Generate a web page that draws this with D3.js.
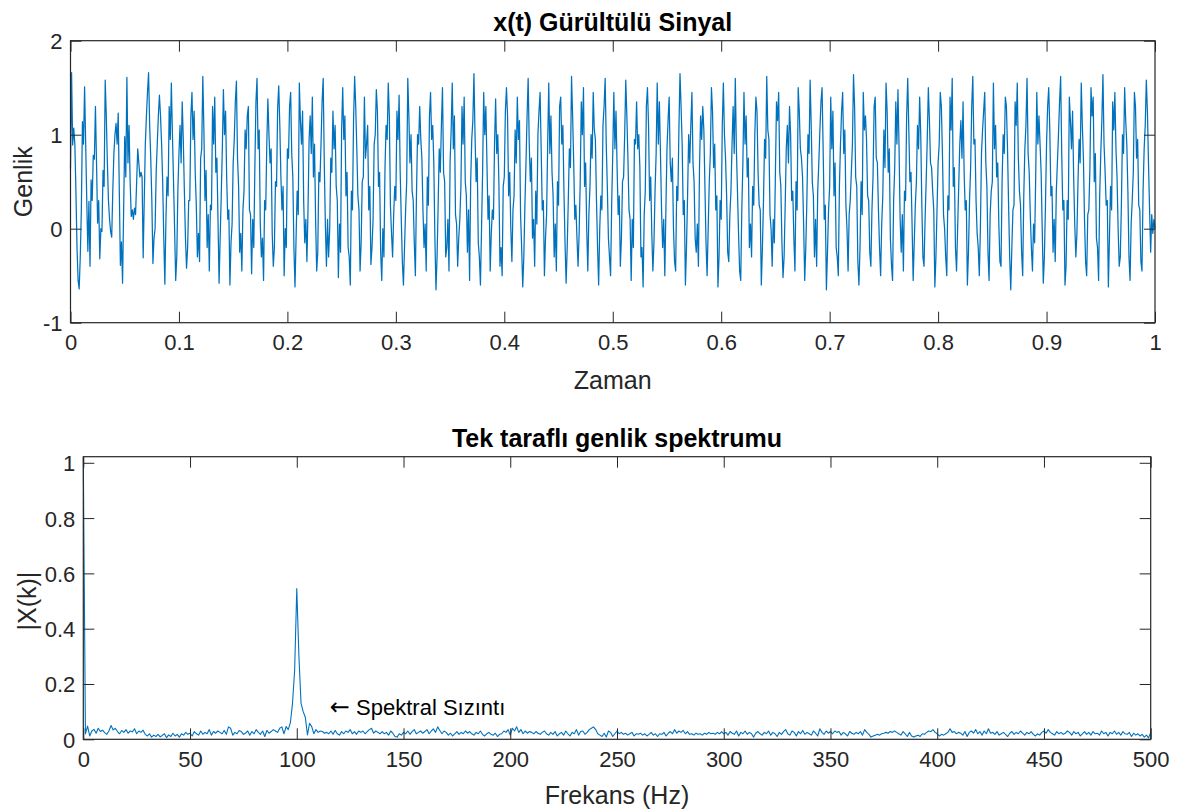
<!DOCTYPE html>
<html>
<head>
<meta charset="utf-8">
<script src="https://cdn.jsdelivr.net/npm/d3@7"></script>
<style>
  body { margin: 0; background: #fff; }
  svg { display: block; font-family: "Liberation Sans", Arial, sans-serif; }
  .tick text { fill: #262626; }
  .tick line { stroke: #262626; }
</style>
</head>
<body>
<div id="chart"></div>
<script>
// Noisy signal x(t), 1 kHz sampling, 1 second (cycle by cycle)
var signal = [
  0.64, 1.66, 0.89, 1.07, 0.9, 0.4, -0.2, -0.55, -0.64, -0.3,
  0.2, 1.14, 0.9, 1.51, 0.9, 0.3, -0.24, 0.29, -0.4, 0.52,
  0.3, 0.78, 0.74, 1.3, 0.7, 0.06, 0.3, -0.32, 0.0, -0.03,
  0.62, 0.45, 1.58, 1.2, 0.7, 0.3, 0.1, -0.03, -0.09, 0.4,
  0.8, 1.0, 1.12, 0.9, 1.23, 0.4, -0.39, -0.14, -0.58, 0.2,
  0.98, 0.55, 1.61, 0.7, 1.1, 0.5, 0.13, 0.2, 0.1, 0.22,
  0.15, 0.5, 0.85, 0.7, 0.55, 0.6, 0.55, -0.31, 0.3, 0.9,
  1.2, 1.45, 1.66, 1.1, 0.75, 0.3, -0.37, -0.1, 0.0, 0.6,
  0.9, 1.2, 1.42, 1.2, 0.9, 0.5, -0.1, -0.59, 0.1, 0.55,
  0.35, 1.3, 0.95, 1.55, 1.0, 0.5, 0.0, -0.55, -0.3, 0.4,
  0.8, 1.1, 0.7, 1.35, 0.95, 0.4, -0.1, -0.42, -0.2, 0.3,
  0.3, 1.2, 1.45, 0.95, 1.25, 0.6, 0.25, -0.3, -0.05, -0.35,
  0.75, 0.85, 1.62, 1.05, 0.3, 0.62, -0.2, 0.15, -0.45, 0.25,
  0.2, 1.3, 0.9, 1.4, 0.6, 0.75, 0.1, -0.58, -0.1, 0.35,
  0.85, 1.48, 1.0, 1.25, 0.55, 0.1, 0.2, -0.6, -0.15, 0.05,
  0.7, 0.95, 1.35, 1.57, 0.75, 0.45, -0.25, -0.05, -0.45, 0.2,
  0.4, 1.05, 0.85, 1.2, 1.3, 0.2, 0.15, -0.48, 0.1, -0.2,
  0.65, 1.35, 1.6, 0.85, 1.05, 0.05, -0.3, -0.1, -0.55, 0.3,
  0.2, 0.9, 1.38, 1.0, 0.7, 0.85, -0.05, -0.4, -0.2, 0.5,
  0.45, 1.28, 1.52, 1.1, 0.55, 0.2, 0.45, -0.5, 0.0, -0.2,
  0.85, 0.75, 1.3, 1.45, 0.8, 0.55, -0.2, -0.62, -0.1, 0.4,
  0.15, 1.55, 1.15, 0.9, 1.25, 0.3, -0.15, 0.1, -0.35, 0.2,
  0.95, 1.2, 0.8, 1.4, 0.55, 0.9, 0.1, -0.45, -0.25, 0.6,
  0.5, 0.9, 1.35, 1.6, 0.7, 0.05, -0.4, 0.1, -0.3, 0.0,
  0.75, 0.6, 1.25, 0.85, 1.1, 0.45, 0.3, -0.52, 0.05, -0.25,
  1.05, 1.5, 0.95, 1.2, 0.35, 0.6, -0.2, -0.3, -0.6, 0.4,
  0.2, 1.15, 1.62, 1.3, 0.85, 0.35, 0.2, -0.45, -0.15, 0.5,
  0.55, 1.4, 0.75, 0.9, 1.1, 0.2, 0.45, -0.38, -0.2, 0.1,
  0.9, 1.0, 1.48, 1.25, 0.45, 0.6, -0.25, -0.55, 0.0, -0.3,
  0.65, 1.1, 0.95, 1.55, 1.2, 0.25, -0.05, -0.3, 0.15, 0.45,
  0.3, 1.25, 0.95, 1.42, 0.6, 0.1, -0.35, -0.6, -0.2, 0.2,
  0.5, 1.6, 1.2, 0.7, 1.0, 0.4, 0.3, -0.15, -0.5, 0.35,
  1.0, 0.9, 1.3, 0.95, 0.75, 0.2, -0.2, 0.05, -0.45, 0.55,
  0.25, 1.2, 1.45, 0.95, 1.1, 0.7, -0.1, -0.65, -0.3, 0.25,
  0.85, 0.6, 1.1, 1.5, 0.6, 0.5, -0.3, -0.2, 0.1, -0.45,
  0.7, 1.05, 1.55, 0.85, 1.2, 0.15, 0.05, -0.4, -0.1, 0.1,
  0.45, 1.3, 0.9, 1.4, 0.5, 0.35, -0.25, 0.2, -0.55, 0.5,
  0.95, 1.15, 1.65, 1.0, 0.5, 0.75, -0.15, -0.3, -0.6, 0.0,
  0.6, 1.45, 1.0, 1.3, 0.7, 0.1, 0.35, -0.45, -0.05, 0.2,
  0.1, 0.9, 1.38, 0.8, 1.0, 0.5, -0.4, -0.2, -0.5, 0.45,
  0.55, 1.25, 1.5, 1.2, 0.35, 0.6, 0.0, -0.35, 0.2, 0.35,
  1.05, 0.7, 1.4, 0.95, 1.15, 0.15, -0.2, -0.62, -0.3, 0.25,
  0.7, 1.2, 1.6, 0.9, 0.5, 0.75, -0.1, 0.1, -0.4, 0.4,
  0.05, 1.0, 1.25, 1.45, 0.85, 0.2, 0.3, -0.5, -0.1, 0.15,
  0.9, 1.55, 0.8, 1.2, 0.6, 0.35, -0.3, 0.05, -0.45, 0.5,
  0.25, 1.3, 1.4, 0.9, 1.1, 0.4, -0.15, -0.58, -0.2, 0.3,
  0.85, 0.65, 1.62, 1.2, 0.7, 0.1, 0.25, -0.1, -0.4, -0.05,
  0.5, 1.35, 1.0, 1.5, 0.45, 0.7, 0.0, -0.45, 0.15, 0.45,
  1.0, 0.75, 1.45, 1.05, 0.95, 0.3, -0.2, -0.6, 0.0, 0.35,
  0.2, 1.1, 1.3, 1.6, 0.9, 0.45, -0.1, -0.3, -0.5, 0.25,
  0.8, 1.45, 0.85, 1.25, 0.65, 0.15, 0.35, -0.4, -0.1, 0.5,
  0.55, 1.0, 1.58, 1.2, 0.75, 0.2, 0.1, -0.55, 0.1, -0.2,
  0.95, 0.9, 1.35, 0.85, 1.0, 0.65, -0.3, -0.2, -0.62, 0.15,
  0.4, 1.3, 1.5, 1.1, 0.3, 0.55, -0.05, -0.45, -0.15, 0.4,
  0.8, 1.55, 0.9, 1.35, 0.8, 0.2, -0.2, 0.1, -0.5, 0.2,
  0.85, 1.15, 1.4, 0.7, 0.5, 0.75, 0.0, -0.35, -0.45, 0.45,
  0.3, 1.05, 1.65, 1.3, 0.9, 0.15, 0.3, -0.6, -0.2, 0.35,
  1.0, 0.7, 1.1, 1.45, 0.7, 0.5, -0.1, -0.25, 0.05, -0.4,
  0.65, 1.2, 0.95, 1.3, 1.05, 0.45, -0.15, -0.5, 0.0, 0.5,
  0.8, 1.5, 1.25, 0.65, 0.9, 0.2, 0.35, -0.62, -0.3, 0.3,
  0.1, 1.1, 1.55, 1.0, 0.75, 0.35, -0.25, -0.35, 0.15, 0.4,
  0.9, 1.3, 0.8, 1.6, 0.85, 0.4, -0.05, -0.45, -0.55, 0.2,
  0.7, 1.45, 0.9, 1.2, 0.55, 0.75, -0.2, 0.05, -0.3, 0.45,
  0.25, 1.0, 1.4, 1.25, 0.6, 0.25, 0.2, -0.6, -0.2, 0.3,
  0.95, 0.75, 1.62, 1.05, 0.95, 0.15, 0.0, -0.4, 0.1, -0.15,
  0.6, 1.35, 1.15, 1.45, 0.6, 0.45, -0.15, -0.52, -0.3, 0.25,
  0.85, 1.1, 0.7, 1.3, 1.0, 0.3, 0.4, -0.1, -0.45, 0.5,
  0.2, 1.5, 1.25, 0.85, 0.75, 0.55, 0.05, -0.55, -0.2, 0.3,
  1.0, 0.8, 1.58, 1.1, 0.5, 0.35, -0.3, 0.1, -0.4, 0.4,
  0.7, 1.05, 1.35, 1.5, 0.85, 0.1, 0.25, -0.65, -0.25, 0.2,
  0.45, 1.4, 0.85, 1.25, 0.35, 0.7, -0.2, -0.3, -0.5, 0.45,
  0.9, 1.25, 1.45, 0.8, 1.05, 0.25, 0.0, -0.45, 0.15, 0.3,
  0.6, 0.9, 1.64, 1.3, 0.55, 0.45, -0.35, -0.6, -0.2, 0.5,
  0.15, 1.45, 1.05, 1.2, 0.95, 0.35, 0.3, -0.25, -0.4, 0.2,
  0.55, 1.3, 1.4, 0.75, 0.7, 0.2, -0.2, -0.5, 0.05, 0.35,
  1.05, 0.65, 1.55, 1.25, 0.6, 0.85, -0.1, -0.38, -0.55, 0.3,
  0.65, 1.35, 0.9, 1.48, 0.85, 0.1, -0.25, 0.15, -0.45, 0.4,
  0.3, 1.2, 1.6, 1.05, 0.5, 0.6, 0.05, -0.55, -0.15, 0.25,
  0.5, 1.1, 0.85, 1.4, 1.0, 0.25, -0.3, -0.4, 0.1, 0.5,
  0.95, 1.5, 1.15, 0.7, 0.65, 0.4, 0.2, -0.62, -0.3, 0.2,
  0.7, 0.9, 1.45, 1.3, 0.8, 0.15, 0.0, -0.3, -0.5, 0.35,
  0.2, 1.4, 1.05, 1.6, 0.45, 0.65, -0.2, -0.45, 0.0, 0.45,
  0.9, 1.15, 0.75, 1.35, 0.6, 0.2, 0.3, -0.6, -0.25, 0.3,
  0.65, 1.3, 1.62, 0.9, 0.95, 0.3, -0.05, -0.2, -0.5, 0.0,
  0.8, 1.05, 1.25, 1.45, 0.7, 0.45, -0.25, -0.55, 0.15, 0.4,
  0.5, 1.55, 0.85, 1.1, 0.55, 0.7, 0.05, -0.35, -0.4, 0.5,
  1.0, 0.8, 1.4, 1.3, 0.85, 0.25, -0.3, -0.65, -0.2, 0.2,
  0.25, 1.35, 1.1, 1.55, 0.75, 0.4, 0.25, -0.25, -0.5, 0.35,
  0.85, 1.1, 1.6, 0.8, 0.6, 0.15, -0.2, -0.45, 0.05, -0.15,
  0.55, 1.45, 0.9, 1.2, 0.9, 0.6, 0.0, -0.58, -0.3, 0.25,
  0.9, 1.3, 1.5, 1.05, 0.35, 0.45, -0.25, 0.1, -0.35, 0.4,
  0.7, 1.0, 1.35, 1.62, 0.8, 0.2, 0.3, -0.6, -0.4, 0.3,
  0.1, 1.4, 1.15, 0.85, 1.25, 0.55, 0.05, -0.3, -0.05, 0.5,
  0.95, 0.7, 1.55, 1.1, 0.75, 0.1, -0.35, -0.5, 0.15, 0.2,
  0.65, 1.5, 1.2, 1.4, 0.5, 0.8, -0.1, -0.2, -0.55, 0.35,
  0.8, 1.15, 1.64, 0.9, 0.6, 0.25, 0.3, -0.62, -0.1, 0.45,
  0.2, 1.35, 1.05, 1.45, 0.85, 0.55, 0.0, -0.4, -0.3, 0.25,
  1.0, 0.8, 1.5, 1.15, 0.9, 0.4, -0.3, -0.55, 0.05, 0.3,
  0.6, 1.45, 1.3, 0.75, 0.95, 0.25, 0.2, -0.35, -0.45, 0.4,
  0.85, 1.1, 1.58, 1.25, 0.7, 0.2, -0.25, 0.15, -0.05, 0.1,
  0.0
];

// One-sided amplitude spectrum |X(k)|, one value per Hz from 0 to 500
var spectrum = [
  1.02, 0.02, 0.048, 0.012, 0.03, 0.036, 0.022, 0.04, 0.028, 0.033,
  0.024, 0.018, 0.03, 0.05, 0.034, 0.04, 0.028, 0.02, 0.032, 0.025,
  0.035, 0.022, 0.03, 0.027, 0.038, 0.02, 0.03, 0.025, 0.033, 0.018,
  0.012, 0.02, 0.008, 0.015, 0.01, 0.018, 0.009, 0.014, 0.02, 0.006,
  0.016, 0.01, 0.022, 0.012, 0.018, 0.008, 0.02, 0.015, 0.025, 0.018,
  0.022, 0.012, 0.028, 0.02, 0.015, 0.03, 0.018, 0.025, 0.02, 0.035,
  0.015, 0.028, 0.022, 0.03, 0.025, 0.02, 0.032, 0.018, 0.045, 0.04,
  0.015, 0.025, 0.02, 0.032, 0.028, 0.018, 0.022, 0.03, 0.015, 0.028,
  0.02, 0.035, 0.025, 0.018, 0.03, 0.01, 0.032, 0.022, 0.028, 0.035,
  0.03, 0.025, 0.04, 0.045, 0.02, 0.046, 0.035, 0.06, 0.13, 0.25,
  0.545, 0.3, 0.13, 0.1, 0.08, 0.016, 0.058, 0.046, 0.02, 0.035,
  0.025, 0.03, 0.028, 0.022, 0.025, 0.02, 0.03, 0.018, 0.032, 0.02,
  0.015, 0.028, 0.02, 0.03, 0.025, 0.035, 0.02, 0.028, 0.018, 0.03,
  0.025, 0.03, 0.02, 0.028, 0.035, 0.04, 0.022, 0.03, 0.025, 0.02,
  0.028, 0.02, 0.025, 0.015, 0.03, 0.022, 0.01, 0.008, 0.02, 0.015,
  0.025, 0.02, 0.03, 0.018, 0.028, 0.035, 0.02, 0.025, 0.03, 0.022,
  0.028, 0.035, 0.02, 0.03, 0.038, 0.025, 0.045, 0.032, 0.02, 0.03,
  0.025, 0.015, 0.022, 0.012, 0.02, 0.028, 0.018, 0.025, 0.02, 0.03,
  0.022, 0.028, 0.02, 0.015, 0.025, 0.02, 0.03, 0.018, 0.012, 0.02,
  0.025, 0.018, 0.015, 0.022, 0.01, 0.018, 0.02, 0.03, 0.025, 0.035,
  0.015, 0.04, 0.03, 0.045, 0.025, 0.035, 0.02, 0.03, 0.022, 0.028,
  0.025, 0.02, 0.028, 0.022, 0.018, 0.025, 0.03, 0.02, 0.015, 0.025,
  0.018, 0.028, 0.012, 0.02, 0.025, 0.015, 0.03, 0.02, 0.012, 0.025,
  0.02, 0.035, 0.015, 0.028, 0.03, 0.018, 0.025, 0.035, 0.04, 0.045,
  0.035, 0.02, 0.015, 0.01, 0.022, 0.008, 0.03, 0.025, 0.01, 0.02,
  0.03, 0.02, 0.025, 0.018, 0.022, 0.015, 0.02, 0.025, 0.012, 0.02,
  0.018, 0.022, 0.015, 0.02, 0.012, 0.018, 0.025, 0.015, 0.02, 0.01,
  0.02, 0.018, 0.025, 0.012, 0.022, 0.028, 0.02, 0.035, 0.022, 0.03,
  0.025, 0.032, 0.02, 0.028, 0.018, 0.02, 0.015, 0.022, 0.018, 0.02,
  0.015, 0.022, 0.018, 0.025, 0.02, 0.022, 0.018, 0.025, 0.02, 0.028,
  0.02, 0.025, 0.015, 0.028, 0.022, 0.018, 0.03, 0.012, 0.025, 0.02,
  0.03, 0.018, 0.025, 0.02, 0.008, 0.022, 0.028, 0.02, 0.015, 0.025,
  0.02, 0.03, 0.015, 0.025, 0.02, 0.01, 0.025, 0.018, 0.028, 0.035,
  0.02, 0.015, 0.03, 0.025, 0.012, 0.028, 0.02, 0.032, 0.018, 0.025,
  0.02, 0.015, 0.03, 0.022, 0.012, 0.038, 0.025, 0.018, 0.03, 0.022,
  0.028, 0.02, 0.03, 0.025, 0.028, 0.015, 0.025, 0.02, 0.012, 0.028,
  0.022, 0.018, 0.025, 0.02, 0.028, 0.015, 0.035, 0.025, 0.018, 0.008,
  0.012, 0.015, 0.018, 0.015, 0.02, 0.022, 0.025, 0.022, 0.028, 0.025,
  0.03, 0.025, 0.02, 0.015, 0.028, 0.02, 0.01, 0.025, 0.012, 0.008,
  0.012, 0.015, 0.01, 0.02, 0.018, 0.025, 0.03, 0.028, 0.035, 0.025,
  0.02, 0.012, 0.018, 0.015, 0.02, 0.025, 0.038, 0.025, 0.028, 0.02,
  0.025, 0.022, 0.015, 0.028, 0.01, 0.025, 0.03, 0.022, 0.035, 0.02,
  0.028, 0.015, 0.03, 0.02, 0.038, 0.022, 0.025, 0.018, 0.028, 0.015,
  0.02, 0.025, 0.018, 0.01, 0.022, 0.028, 0.018, 0.025, 0.02, 0.03,
  0.022, 0.015, 0.025, 0.02, 0.028, 0.018, 0.012, 0.02, 0.015, 0.025,
  0.03, 0.022, 0.035, 0.025, 0.02, 0.015, 0.028, 0.02, 0.025, 0.018,
  0.022, 0.03, 0.025, 0.015, 0.028, 0.02, 0.025, 0.012, 0.02, 0.028,
  0.018, 0.025, 0.015, 0.028, 0.02, 0.022, 0.015, 0.03, 0.02, 0.025,
  0.012, 0.025, 0.02, 0.03, 0.018, 0.025, 0.015, 0.028, 0.02, 0.018,
  0.025, 0.01, 0.022, 0.015, 0.02, 0.012, 0.018, 0.008, 0.015, 0.005,
  0.025
];

// Tick values
var timeTicks = [0, 0.1, 0.2, 0.3, 0.4, 0.5, 0.6, 0.7, 0.8, 0.9, 1];
var ampTicks = [-1, 0, 1, 2];
var freqTicks = [0, 50, 100, 150, 200, 250, 300, 350, 400, 450, 500];
var magTicks = [0, 0.2, 0.4, 0.6, 0.8, 1];

var sampleRate = 1000;

var width = 1180;
var height = 812;
var lineColor = "#0072BD";
var axisColor = "#262626";
var tickLen = 11;

var svg = d3.select("#chart")
  .append("svg")
  .attr("width", width)
  .attr("height", height);

// Draws a MATLAB-like boxed axes with inward ticks on all sides
function drawBox(g, x, y, xTicks, yTicks, xFmt, yFmt) {
  var x0 = x.range()[0], x1 = x.range()[1];
  var y0 = y.range()[0], y1 = y.range()[1];

  var bottom = g.append("g")
    .attr("transform", "translate(0," + y0 + ")")
    .call(d3.axisBottom(x).tickValues(xTicks).tickFormat(xFmt)
      .tickSizeInner(-tickLen).tickSizeOuter(0).tickPadding(12));
  var top = g.append("g")
    .attr("transform", "translate(0," + y1 + ")")
    .call(d3.axisTop(x).tickValues(xTicks).tickFormat("")
      .tickSizeInner(-tickLen).tickSizeOuter(0));
  var left = g.append("g")
    .attr("transform", "translate(" + x0 + ",0)")
    .call(d3.axisLeft(y).tickValues(yTicks).tickFormat(yFmt)
      .tickSizeInner(-tickLen).tickSizeOuter(0).tickPadding(8));
  var right = g.append("g")
    .attr("transform", "translate(" + x1 + ",0)")
    .call(d3.axisRight(y).tickValues(yTicks).tickFormat("")
      .tickSizeInner(-tickLen).tickSizeOuter(0));

  [bottom, top, left, right].forEach(function(a) {
    a.select(".domain").remove();
    a.selectAll(".tick line").attr("stroke", axisColor).attr("stroke-width", 1);
    a.selectAll(".tick text")
      .attr("fill", axisColor)
      .style("font-size", "22px")
      .style("font-family", "'Liberation Sans', Arial, sans-serif");
  });
  bottom.selectAll(".tick text").attr("dy", "0.71em");
  left.selectAll(".tick text").attr("dy", "0.36em");

  g.append("rect")
    .attr("x", x0)
    .attr("y", y1)
    .attr("width", x1 - x0)
    .attr("height", y0 - y1)
    .attr("fill", "none")
    .attr("stroke", axisColor)
    .attr("stroke-width", 1.2);
}

function plain(d) { return String(d); }

// ---- Top plot: noisy signal ----
var xTime = d3.scaleLinear().domain([0, 1]).range([70.5, 1155]);
var yAmp = d3.scaleLinear().domain([-1, 2]).range([322.7, 40.7]);

var topG = svg.append("g");

topG.append("path")
  .datum(signal)
  .attr("fill", "none")
  .attr("stroke", lineColor)
  .attr("stroke-width", 1.25)
  .attr("stroke-linejoin", "round")
  .attr("d", d3.line()
    .x(function(d, i) { return xTime(i / sampleRate); })
    .y(function(d) { return yAmp(d); }));

drawBox(topG, xTime, yAmp, timeTicks, ampTicks, plain, plain);

topG.append("text")
  .attr("x", (70.5 + 1155) / 2)
  .attr("y", 30.5)
  .attr("text-anchor", "middle")
  .style("font-size", "25px")
  .style("font-weight", "bold")
  .attr("fill", "#000")
  .text("x(t) Gürültülü Sinyal");

topG.append("text")
  .attr("x", (70.5 + 1155) / 2)
  .attr("y", 389)
  .attr("text-anchor", "middle")
  .style("font-size", "25px")
  .attr("fill", axisColor)
  .text("Zaman");

topG.append("text")
  .attr("transform", "translate(32," + yAmp(0.5) + ") rotate(-90)")
  .attr("text-anchor", "middle")
  .style("font-size", "25px")
  .attr("fill", axisColor)
  .text("Genlik");

// ---- Bottom plot: one-sided amplitude spectrum ----
var xFreq = d3.scaleLinear().domain([0, 500]).range([83.3, 1150.7]);
var yMag = d3.scaleLinear().domain([0, 1.022]).range([739.3, 456.7]);

var botG = svg.append("g");

botG.append("path")
  .datum(spectrum)
  .attr("fill", "none")
  .attr("stroke", lineColor)
  .attr("stroke-width", 1.1)
  .attr("stroke-linejoin", "round")
  .attr("d", d3.line()
    .x(function(d, i) { return xFreq(i); })
    .y(function(d) { return yMag(d); }));

drawBox(botG, xFreq, yMag, freqTicks, magTicks, plain, plain);

botG.append("text")
  .attr("x", (83.3 + 1150.7) / 2)
  .attr("y", 446.5)
  .attr("text-anchor", "middle")
  .style("font-size", "25px")
  .style("font-weight", "bold")
  .attr("fill", "#000")
  .text("Tek taraflı genlik spektrumu");

botG.append("text")
  .attr("x", (83.3 + 1150.7) / 2)
  .attr("y", 804)
  .attr("text-anchor", "middle")
  .style("font-size", "25px")
  .attr("fill", axisColor)
  .text("Frekans (Hz)");

botG.append("text")
  .attr("transform", "translate(36," + yMag(0.5) + ") rotate(-90)")
  .attr("text-anchor", "middle")
  .style("font-size", "25px")
  .attr("fill", axisColor)
  .text("|X(k)|");

// Leakage annotation
var note = botG.append("text")
  .attr("x", xFreq(115.5))
  .attr("y", yMag(0.117))
  .attr("dy", "0.36em")
  .style("font-size", "22px")
  .attr("fill", "#000");
note.append("tspan")
  .style("font-family", "'DejaVu Sans', sans-serif")
  .style("font-size", "24px")
  .text("\u2190");
note.append("tspan")
  .text(" Spektral Sızıntı");
</script>
</body>
</html>
